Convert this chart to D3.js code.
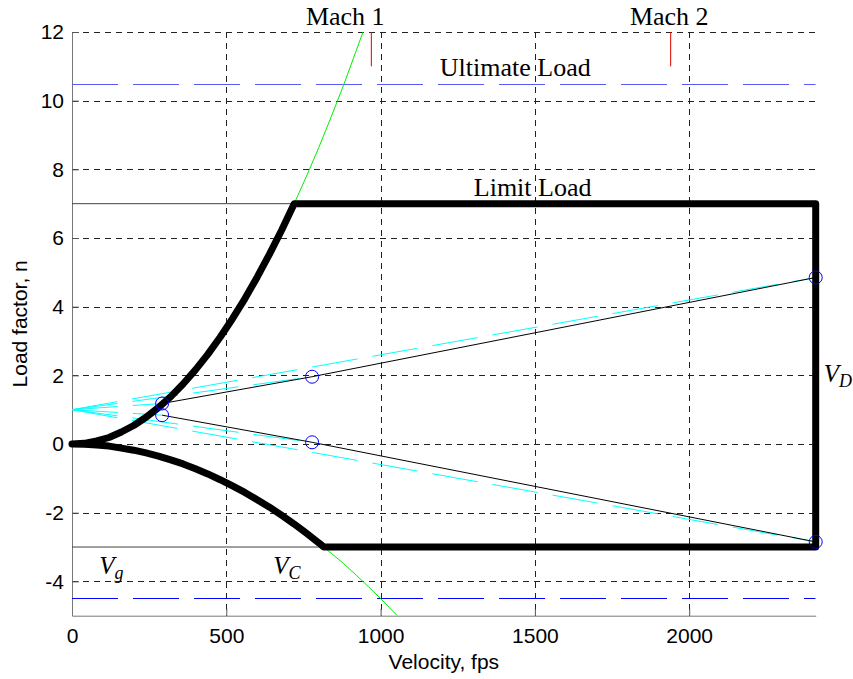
<!DOCTYPE html>
<html>
<head>
<meta charset="utf-8">
<script src="https://cdn.jsdelivr.net/npm/d3@7"></script>
<style>
  body { margin: 0; background: #fff; }
  svg { display: block; }
</style>
</head>
<body>
<div id="chart"></div>
<script>
// V-n diagram data

// positive stall line (green), thick black until it reaches the limit load
const stallV = [0, 40, 80, 120, 160, 200, 240, 280, 320, 360, 400, 440, 480, 520, 560, 600, 640, 680, 720, 760, 800, 840, 880, 920, 943];
const stallN = [0, 0.02, 0.09, 0.19, 0.35, 0.54, 0.78, 1.06, 1.38, 1.75, 2.16, 2.61, 3.11, 3.65, 4.23, 4.86, 5.53, 6.24, 7.00, 7.80, 8.64, 9.53, 10.45, 11.43, 12.0];

// negative stall line
const negStallV = [0, 40, 80, 120, 160, 200, 240, 280, 320, 360, 400, 440, 480, 520, 560, 600, 640, 680, 720, 760, 800, 816, 840, 880, 920, 960, 1000, 1040, 1054];
const negStallN = [0, -0.01, -0.03, -0.06, -0.12, -0.18, -0.26, -0.35, -0.46, -0.58, -0.72, -0.87, -1.04, -1.22, -1.41, -1.62, -1.84, -2.08, -2.33, -2.60, -2.88, -3.00, -3.18, -3.48, -3.81, -4.15, -4.50, -4.87, -5.00];

// gust points (Vg, Vc, Vd) and gust lines from n = 1
const gustV = [0, 292, 778, 2410];
const gustPos = [1, 1.18, 1.96, 4.85];
const gustNeg = [1, 0.84, 0.05, -2.85];

const limitPos = 7, limitNeg = -3;
const ultimatePos = 10.5, ultimateNeg = -4.5;
const VD = 2410;
const machV = [970, 1940];
const machNames = ["Mach 1", "Mach 2"];

const xTicks = [0, 500, 1000, 1500, 2000];
const yTicks = [-4, -2, 0, 2, 4, 6, 8, 10, 12];

const width = 853, height = 679;
const margin = {left: 72, right: 37.3, top: 32, bottom: 63.3};

const svg = d3.select("#chart")
    .append("svg")
    .attr("width", width)
    .attr("height", height);

const x = d3.scaleLinear().domain([0, VD]).range([margin.left, width - margin.right]);
const y = d3.scaleLinear().domain([-5, 12]).range([height - margin.bottom, margin.top]);

svg.append("defs").append("clipPath").attr("id", "plot")
    .append("rect")
    .attr("x", x(0)).attr("y", y(12))
    .attr("width", x(VD) - x(0)).attr("height", y(-5) - y(12));

// grid
const grid = svg.append("g").attr("stroke", "#222").attr("stroke-width", 1).attr("stroke-dasharray", "6,5");
grid.selectAll(".gx").data(xTicks).enter().append("line")
    .attr("x1", d => Math.round(x(d)) + 0.5).attr("x2", d => Math.round(x(d)) + 0.5)
    .attr("y1", y(12)).attr("y2", y(-5));
grid.selectAll(".gy").data(yTicks).enter().append("line")
    .attr("y1", d => Math.round(y(d)) + 0.5).attr("y2", d => Math.round(y(d)) + 0.5)
    .attr("x1", x(0)).attr("x2", x(VD));

// axes
const fmt = d => String(d);
const xAxis = svg.append("g")
    .attr("transform", `translate(0,${y(-5)})`)
    .call(d3.axisBottom(x).tickValues(xTicks).tickFormat(fmt).tickSizeInner(-7).tickSizeOuter(0).tickPadding(12));
const yAxis = svg.append("g")
    .attr("transform", `translate(${x(0)},0)`)
    .call(d3.axisLeft(y).tickValues(yTicks).tickFormat(fmt).tickSizeInner(-7).tickSizeOuter(0).tickPadding(8));
[xAxis, yAxis].forEach(a => {
    a.select(".domain").attr("stroke", "#777");
    a.selectAll(".tick line").attr("stroke", "#555");
    a.selectAll("text")
        .attr("font-family", "'Liberation Sans', Arial, sans-serif")
        .attr("font-size", "21px")
        .attr("fill", "#000");
});

const plot = svg.append("g").attr("clip-path", "url(#plot)");
const line = d3.line().x(d => x(d[0])).y(d => y(d[1]));

// thin limit lines from the origin side
plot.append("line")
    .attr("x1", x(0)).attr("x2", x(720))
    .attr("y1", y(limitPos)).attr("y2", y(limitPos))
    .attr("stroke", "#444").attr("stroke-width", 1);
plot.append("line")
    .attr("x1", x(0)).attr("x2", x(816))
    .attr("y1", y(limitNeg)).attr("y2", y(limitNeg))
    .attr("stroke", "#444").attr("stroke-width", 1);

// ultimate load lines
plot.append("line")
    .attr("x1", x(0)).attr("x2", x(VD))
    .attr("y1", Math.round(y(ultimatePos)) + 0.5).attr("y2", Math.round(y(ultimatePos)) + 0.5)
    .attr("stroke", "#5a5af5").attr("stroke-width", 1)
    .attr("stroke-dasharray", "46,15");
plot.append("line")
    .attr("x1", x(0)).attr("x2", x(VD))
    .attr("y1", Math.floor(y(ultimateNeg)) + 0.5).attr("y2", Math.floor(y(ultimateNeg)) + 0.5)
    .attr("stroke", "#0000ff").attr("stroke-width", 1.2)
    .attr("stroke-dasharray", "46,15");

// gust lines (cyan, dashed) from n = 1
[gustPos, gustNeg].forEach(g => {
    for (let i = 1; i < gustV.length; i++) {
        plot.append("line")
            .attr("x1", x(gustV[0])).attr("y1", y(g[0]))
            .attr("x2", x(gustV[i])).attr("y2", y(g[i]))
            .attr("stroke", "#00ffff").attr("stroke-width", 1)
            .attr("stroke-dasharray", "46,15");
    }
});

// gust envelope (thin black)
[gustPos, gustNeg].forEach(g => {
    plot.append("path")
        .attr("d", line(gustV.slice(1).map((v, i) => [v, g[i + 1]])))
        .attr("fill", "none").attr("stroke", "#000").attr("stroke-width", 1);
});

// stall lines (green)
plot.append("path")
    .attr("d", line(stallV.map((v, i) => [v, stallN[i]])))
    .attr("fill", "none").attr("stroke", "#00ee00").attr("stroke-width", 1);
plot.append("path")
    .attr("d", line(negStallV.map((v, i) => [v, negStallN[i]])))
    .attr("fill", "none").attr("stroke", "#00ee00").attr("stroke-width", 1);

// maneuver envelope (thick black)
const env = [];
stallV.forEach((v, i) => { if (stallN[i] <= limitPos) env.push([v, stallN[i]]); });
env.push([VD, limitPos]);
env.push([VD, limitNeg]);
const negPart = [];
negStallV.forEach((v, i) => { if (negStallN[i] >= limitNeg) negPart.push([v, negStallN[i]]); });
negPart.reverse().forEach(p => env.push(p));
svg.append("path")
    .attr("d", line(env))
    .attr("fill", "none").attr("stroke", "#000").attr("stroke-width", 7)
    .attr("stroke-linejoin", "round").attr("stroke-linecap", "round");

// gust points
const pts = gustV.slice(1).map((v, i) => [v, gustPos[i + 1]])
    .concat(gustV.slice(1).map((v, i) => [v, gustNeg[i + 1]]));
svg.selectAll(".gp").data(pts).enter().append("circle")
    .attr("cx", d => x(d[0])).attr("cy", d => y(d[1])).attr("r", 6.5)
    .attr("fill", "none").attr("stroke", "#0000ff").attr("stroke-width", 1);

// Mach markers
svg.selectAll(".mach").data(machV).enter().append("line")
    .attr("x1", d => x(d)).attr("x2", d => x(d))
    .attr("y1", y(12)).attr("y2", y(11))
    .attr("stroke", "#e00000").attr("stroke-width", 1);

// annotations
const serif = "'Liberation Serif', 'Times New Roman', serif";
const notes = [
    {t: machNames[0], v: 758, n: 12.2},
    {t: machNames[1], v: 1808, n: 12.2},
    {t: "Ultimate Load", v: 1192, n: 10.72},
    {t: "Limit Load", v: 1302, n: 7.22}
];
svg.selectAll(".note").data(notes).enter().append("text")
    .attr("x", d => x(d.v)).attr("y", d => y(d.n))
    .attr("font-family", serif).attr("font-size", "26px").attr("fill", "#000")
    .text(d => d.t);

const speeds = [
    {main: "V", sub: "g", v: 88, n: -3.79},
    {main: "V", sub: "C", v: 652, n: -3.79},
    {main: "V", sub: "D", v: 2436, n: 1.81}
];
speeds.forEach(s => {
    const t = svg.append("text")
        .attr("x", x(s.v)).attr("y", y(s.n))
        .attr("font-family", serif).attr("font-style", "italic")
        .attr("font-size", "25px").attr("fill", "#000");
    t.append("tspan").text(s.main);
    t.append("tspan").attr("dy", 5).attr("font-size", "18px").text(s.sub);
});

// axis labels
svg.append("text")
    .attr("x", (x(0) + x(VD)) / 2).attr("y", 669)
    .attr("text-anchor", "middle")
    .attr("font-family", "'Liberation Sans', Arial, sans-serif").attr("font-size", "21px")
    .text("Velocity, fps");
svg.append("text")
    .attr("transform", `translate(27,${y(3.5)}) rotate(-90)`)
    .attr("text-anchor", "middle")
    .attr("font-family", "'Liberation Sans', Arial, sans-serif").attr("font-size", "21px")
    .text("Load factor, n");
</script>
</body>
</html>
